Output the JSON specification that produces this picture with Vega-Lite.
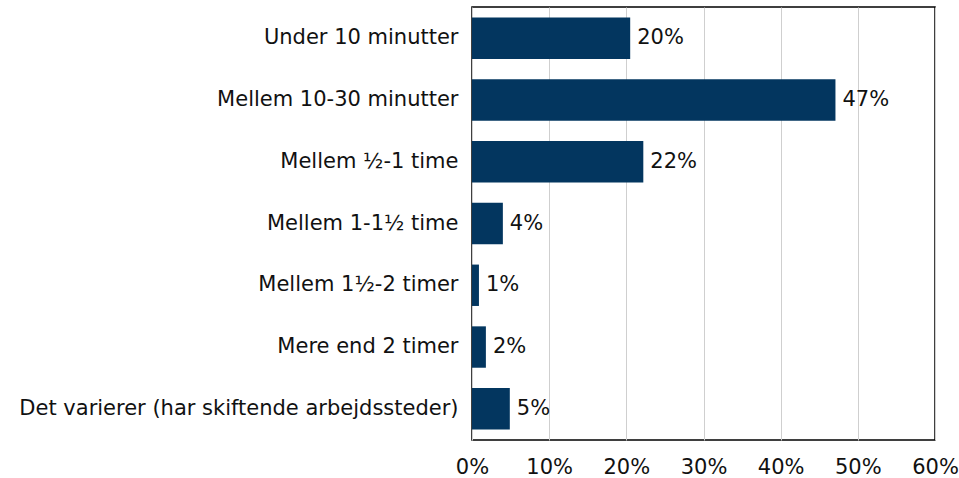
{
  "$schema": "https://vega.github.io/schema/vega-lite/v6.json",
  "autosize": "none",
  "width": 463,
  "height": 433,
  "padding": {"left": 472, "top": 7, "right": 24, "bottom": 38},
  "background": "white",
  "config": {
    "font": "DejaVu Sans",
    "view": {"stroke": "black", "strokeWidth": 1.5},
    "axis": {"labelFont": "DejaVu Sans", "labelFontSize": 21, "labelColor": "#111111"}
  },
  "data": {
    "values": [
      {"kategori": "Under 10 minutter", "andel": 0.205, "label": "20%"},
      {"kategori": "Mellem 10-30 minutter", "andel": 0.471, "label": "47%"},
      {"kategori": "Mellem ½-1 time", "andel": 0.222, "label": "22%"},
      {"kategori": "Mellem 1-1½ time", "andel": 0.04, "label": "4%"},
      {"kategori": "Mellem 1½-2 timer", "andel": 0.009, "label": "1%"},
      {"kategori": "Mere end 2 timer", "andel": 0.018, "label": "2%"},
      {"kategori": "Det varierer (har skiftende arbejdssteder)", "andel": 0.049, "label": "5%"}
    ]
  },
  "encoding": {
    "y": {
      "field": "kategori",
      "type": "nominal",
      "sort": null,
      "title": null,
      "scale": {"paddingInner": 0.33, "paddingOuter": 0.17},
      "axis": {"ticks": false, "domain": false, "labelPadding": 14, "labelLimit": 600}
    },
    "x": {
      "field": "andel",
      "type": "quantitative",
      "title": null,
      "scale": {"domain": [0, 0.6], "nice": false},
      "axis": {
        "format": ".0%",
        "values": [0, 0.1, 0.2, 0.3, 0.4, 0.5, 0.6],
        "ticks": false,
        "domain": false,
        "labelFlush": false,
        "labelPadding": 16,
        "gridColor": "#cfcfcf",
        "gridWidth": 1
      }
    }
  },
  "layer": [
    {"mark": {"type": "bar", "color": "#03365f"}},
    {
      "mark": {"type": "text", "align": "left", "dx": 7, "fontSize": 21, "font": "DejaVu Sans", "color": "#111111"},
      "encoding": {"text": {"field": "label"}}
    }
  ]
}
